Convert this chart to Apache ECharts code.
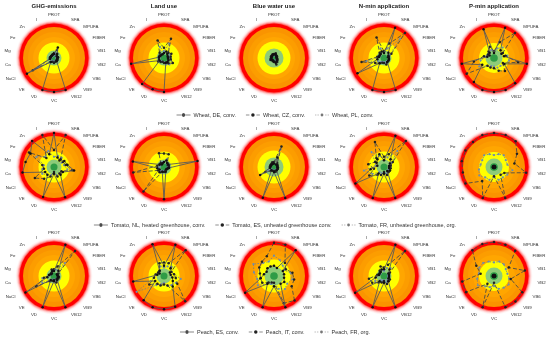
<!DOCTYPE html>
<html><head><meta charset="utf-8">
<script src="https://cdn.jsdelivr.net/npm/echarts@6/dist/echarts.min.js"></script>
<style>html,body{margin:0;padding:0;background:#fff}#c{width:550px;height:339px}</style>
</head><body><div id="c"></div>
<script>
// ---------------- DATA ----------------
const axes = ['PROT','SFA','MPUFA','FIBER','VB1','VB2','VB6','VB9','VB12','VC','VD','VE','NaCl','Ca','Mg','Fe','Zn','I'];
const impactTitles = ['GHG-emissions','Land use','Blue water use','N-min application','P-min application'];
const wheatNames  = ['Wheat, DE, conv.','Wheat, CZ, conv.','Wheat, PL, conv.'];
const tomatoNames = ['Tomato, NL, heated greenhouse, conv.','Tomato, ES, unheated greenhouse conv.','Tomato, FR, unheated greenhouse, org.'];
const peachNames  = ['Peach, ES, conv.','Peach, IT, conv.','Peach, FR, org.'];

// values: relative distance from centre (1 = outer red ring), clockwise from PROT
const wheatGHG = [
  [.12,.33,.15,.10,.12,.10,.10,.12,1.0,1.0,1.0,.15,.92,.12,.10,.10,.10,.10],
  [.15,.25,.12,.10,.10,.10,.12,.10,.12,.15,.12,.15,.72,.12,.12,.10,.10,.12],
  [.08,.15,.10,.08,.08,.08,.08,.08,.10,.10,.10,.10,.55,.10,.08,.08,.08,.08]];
const wheatLand = [
  [.15,.20,.15,.12,.12,.12,.15,.15,.15,1.0,.98,1.0,.15,.98,.15,.12,.12,.12],
  [.30,.60,.20,.25,.20,.20,.30,.20,.15,.15,.12,.15,.20,.15,.15,.15,.20,.55],
  [.20,.45,.20,.20,.15,.20,.30,.25,.20,.12,.12,.12,.15,.15,.12,.12,.15,.35]];
const wheatWater = [
  [.10,.12,.10,.08,.08,.08,.10,.12,.15,.10,.08,.08,.10,.08,.08,.08,.08,.10],
  [.12,.15,.10,.10,.08,.10,.12,.15,.20,.12,.10,.08,.12,.10,.08,.10,.10,.12],
  [.08,.10,.08,.08,.08,.08,.08,.10,.12,.08,.08,.08,.08,.08,.08,.08,.08,.08]];
const wheatN = [
  [.15,.95,.20,.15,.12,.15,.15,.15,1.0,1.0,1.0,.20,.90,.20,.15,.15,.15,.20],
  [.20,.45,.96,.25,.15,.15,.15,.15,.20,.15,.15,.20,.30,.67,.20,.15,.20,.64],
  [.15,.30,.73,.20,.15,.15,.15,.12,.15,.12,.12,.15,.20,.53,.15,.12,.15,.30]];
const wheatP = [
  [.15,.95,.30,.25,.30,.98,.35,.97,1.0,1.0,1.0,.92,.40,.96,.20,.15,.20,.90],
  [.20,.50,.96,.30,.35,.72,.30,.50,.40,.30,.30,.30,.93,.60,.30,.20,.25,.35],
  [.20,.30,.40,.30,.40,.45,.35,.30,.30,.25,.25,.30,.50,.40,.25,.20,.20,.25]];
const tomatoGHG = [
  [1.0,.30,.25,.35,.40,.60,.30,.30,.95,.20,.94,.30,.30,.94,.85,.80,1.0,.40],
  [.50,1.0,.30,.30,.35,.55,.25,.25,.30,.15,.30,.45,.65,.30,.35,.85,.35,1.0],
  [.30,.35,.35,.25,.30,.40,.30,.25,.25,.15,.25,.30,.40,.35,.30,.60,.40,.50]];
const tomatoLand = [
  [.15,.20,.15,.15,1.0,.15,.10,.10,.15,.95,.15,.20,.15,.20,.93,.15,.10,.12],
  [.40,.40,.15,.12,.15,.12,.12,.10,.12,.15,.15,.94,.20,.92,.20,.15,.15,.43],
  [.15,.25,.12,.12,.12,.10,.10,.10,.12,.12,.12,.15,.15,.15,.12,.12,.12,.15]];
const tomatoWater = [
  [.10,.30,.10,.10,.10,.10,.12,.12,.97,.15,.96,.12,.47,.12,.10,.10,.10,.10],
  [.15,.64,.15,.12,.10,.12,.12,.12,.15,.12,.12,.15,.30,.12,.12,.12,.12,.15],
  [.12,.55,.12,.10,.10,.10,.10,.10,.12,.10,.10,.10,.20,.10,.10,.10,.10,.12]];
const tomatoN = [
  [.20,.98,.30,.20,.15,.15,.20,.15,.97,.20,.97,.25,.97,.40,.20,.25,.30,.40],
  [.30,.40,1.0,.30,.20,.20,.20,.20,.25,.15,.25,.30,.50,.30,.47,.30,.35,.78],
  [.20,.30,.61,.25,.20,.15,.15,.15,.20,.15,.20,.20,.40,.60,.25,.30,.57,.35]];
const tomatoP = [
  [.03,.03,.03,.03,.03,.03,.03,.03,.03,.03,.03,.03,.03,.03,.03,.03,.03,.03],
  [1.0,1.0,.99,.78,.61,.96,.35,.30,.97,.27,.97,.54,.97,.93,.96,.97,.96,1.0],
  [.35,.40,.45,.40,.40,.55,.45,.40,.40,.30,.40,.40,.50,.45,.40,.40,.45,.40]];
const peachGHG = [
  [.15,.98,.20,.10,.10,.12,.12,.15,.98,.15,.98,.15,.97,.20,.15,.10,.10,.15],
  [.20,.30,.96,.15,.12,.15,.15,.12,.20,.12,.15,.20,.60,.30,.15,.12,.12,.20],
  [.15,.20,.50,.12,.10,.12,.12,.12,.15,.10,.12,.15,.40,.35,.12,.10,.10,.15]];
const peachLand = [
  [.30,.98,.30,.20,.20,.25,.30,.40,.96,.98,.98,.93,.30,.92,.20,.15,.20,.99],
  [.40,.40,.99,.25,.30,.35,.45,.97,.30,.25,.30,.30,.50,.30,.25,.20,.20,.40],
  [.25,.30,.35,.25,.30,.50,.40,.35,.30,.20,.25,.35,.93,.30,.25,.20,.20,.30]];
const peachWater = [
  [.30,.25,.99,.30,.30,.30,.35,.30,.98,.30,.98,.30,.98,.40,.30,.25,.30,.30],
  [.98,.98,.50,.40,.55,.60,.60,.94,.85,.20,.20,.25,.40,.40,.42,.50,.55,.62],
  [.60,.50,.40,.35,.50,.55,.45,.50,.40,.20,.25,.30,.55,.50,.60,.70,.50,.45]];
const peachN = [
  [.20,.98,.25,.15,.15,.15,.15,.20,.98,.20,.98,.20,.98,.25,.15,.15,.15,.20],
  [.25,.35,.96,.20,.15,.15,.20,.20,.25,.15,.20,.25,.40,.45,.20,.15,.20,.30],
  [.15,.25,.30,.15,.12,.12,.15,.15,.20,.12,.15,.15,.30,.25,.15,.12,.15,.20]];
const peachP = [
  [.03,.03,.03,.03,.03,.03,.03,.03,.03,.03,.03,.03,.03,.03,.03,.03,.03,.03],
  [1.0,.98,.97,.50,.92,.50,.96,.98,.98,.20,.98,.30,.95,.95,.40,.60,.99,1.0],
  [.40,.45,.45,.40,.40,.45,.50,.45,.40,.30,.35,.40,.55,.50,.45,.50,.50,.45]];

const rowNames = [wheatNames, tomatoNames, peachNames];
const panels = [
  [wheatGHG, wheatLand, wheatWater, wheatN, wheatP],
  [tomatoGHG, tomatoLand, tomatoWater, tomatoN, tomatoP],
  [peachGHG, peachLand, peachWater, peachN, peachP]];

// ---------------- LAYOUT / STYLE ----------------
const colX = [54, 164, 274, 384, 494];
const rowY = [58, 167, 276];
const legendY = [112, 222, 329];
const R = 34;
// ring radii (px): dark green, light green, yellow, orange
const ringsByCol = [[3.5,7.5,15.5,31],[3.5,7.5,15.5,31],[3.8,9.5,16.5,31],[3.5,7.5,15.5,31],[3.8,8.5,15,31]];

// discs painted largest first: [radius, colour]
function discs(rings) {
  const [g1,g2,y,o] = rings;
  return [
    [38.4,'#fff6f6'],[37.6,'#ffe6e6'],[36.8,'#ffc6c6'],[36,'#ff9a9a'],[35.2,'#ff5c5c'],
    [34.5,'#ff0000'],[o,'#fa9400'],[o-5,'#fc9d00'],[o-10,'#ffa600'],[y,'#ffff00'],[g2,'#8dcb79'],[g1,'#2f9c46']];
}

// ECharts radar runs counter-clockwise: reorder so indicators read clockwise
const ccw = [0].concat(Array.from({length:17},(_,i)=>17-i));

const lineStyles = [
  {color:'#5a5a5a', width:0.9, type:'solid'},
  {color:'#4a4a4a', width:0.9, type:[4,2]},
  {color:'#808080', width:0.9, type:[1.5,1.5]}];
const markerColors = ['#111','#222','#6d8db0'];
const markerSizes = [2.5, 2.5, 2.2];
const icons = [
  'path://M0,3.5h20v1h-20z M7.5,4a2.5,2.5 0 1,0 5,0a2.5,2.5 0 1,0 -5,0z',
  'path://M0,3.5h5v1h-5z M15,3.5h5v1h-5z M7.5,4a2.5,2.5 0 1,0 5,0a2.5,2.5 0 1,0 -5,0z',
  'path://M0,3.5h2v1h-2z M3.5,3.5h2v1h-2z M14.5,3.5h2v1h-2z M18,3.5h2v1h-2z M8,4a2,2 0 1,0 4,0a2,2 0 1,0 -4,0z'];
const iconColors = ['#111','#222','#777'];

const radar = [], series = [], graphic = [];
panels.forEach((row, r) => row.forEach((vals, c) => {
  const idx = radar.length;
  const center = [colX[c], rowY[r]];
  radar.push({
    center, radius:R, startAngle:90, shape:'circle', splitNumber:1,
    indicator: ccw.map(i => ({name:axes[i], min:0, max:1})),
    nameGap:7,
    axisName:{color:'#333', fontSize:4.4, fontFamily:'Liberation Sans', padding:[0,3]},
    axisLine:{show:false}, splitLine:{show:false}, splitArea:{show:false},
    axisTick:{show:false}, axisLabel:{show:false}
  });
  discs(ringsByCol[c]).forEach(([rad, col], k) => series.push({
    type:'pie', silent:true, z:1 + k, center, radius:[0, rad], animation:false,
    label:{show:false}, labelLine:{show:false}, emphasis:{disabled:true},
    itemStyle:{borderWidth:0},
    data:[{value:1, itemStyle:{color:col}}]
  }));
  vals.forEach((v, s) => {
    const name = rowNames[r][s];
    series.push({
      type:'radar', radarIndex:idx, name, z:30 + (2 - s),
      symbol:'circle', symbolSize:markerSizes[s],
      lineStyle:lineStyles[s], itemStyle:{color:markerColors[s]},
      emphasis:{disabled:true},
      data:[{name, value: ccw.map(i => v[i])}]
    });
  });
}));

impactTitles.forEach((t, c) => graphic.push({
  type:'text', x:colX[c], y:3, z:40,
  style:{text:t, align:'center', verticalAlign:'top', fill:'#1a1a1a', font:'bold 6px "Liberation Sans", Arial, sans-serif'}
}));

const legend = rowNames.map((names, r) => ({
  top:legendY[r], left:'center', padding:0, itemWidth:14, itemHeight:4, itemGap:10, selectedMode:false, z:40,
  textStyle:{fontSize:5.5, color:'#333', fontFamily:'Liberation Sans', padding:[0,0,0,-2]},
  data: names.map((n, k) => ({name:n, icon:icons[k], itemStyle:{color:iconColors[k]}}))
}));

const chart = echarts.init(document.getElementById('c'), null, {renderer:'canvas'});
chart.setOption({animation:false, backgroundColor:'#fff', radar, series, legend, graphic});
</script>
</body></html>
